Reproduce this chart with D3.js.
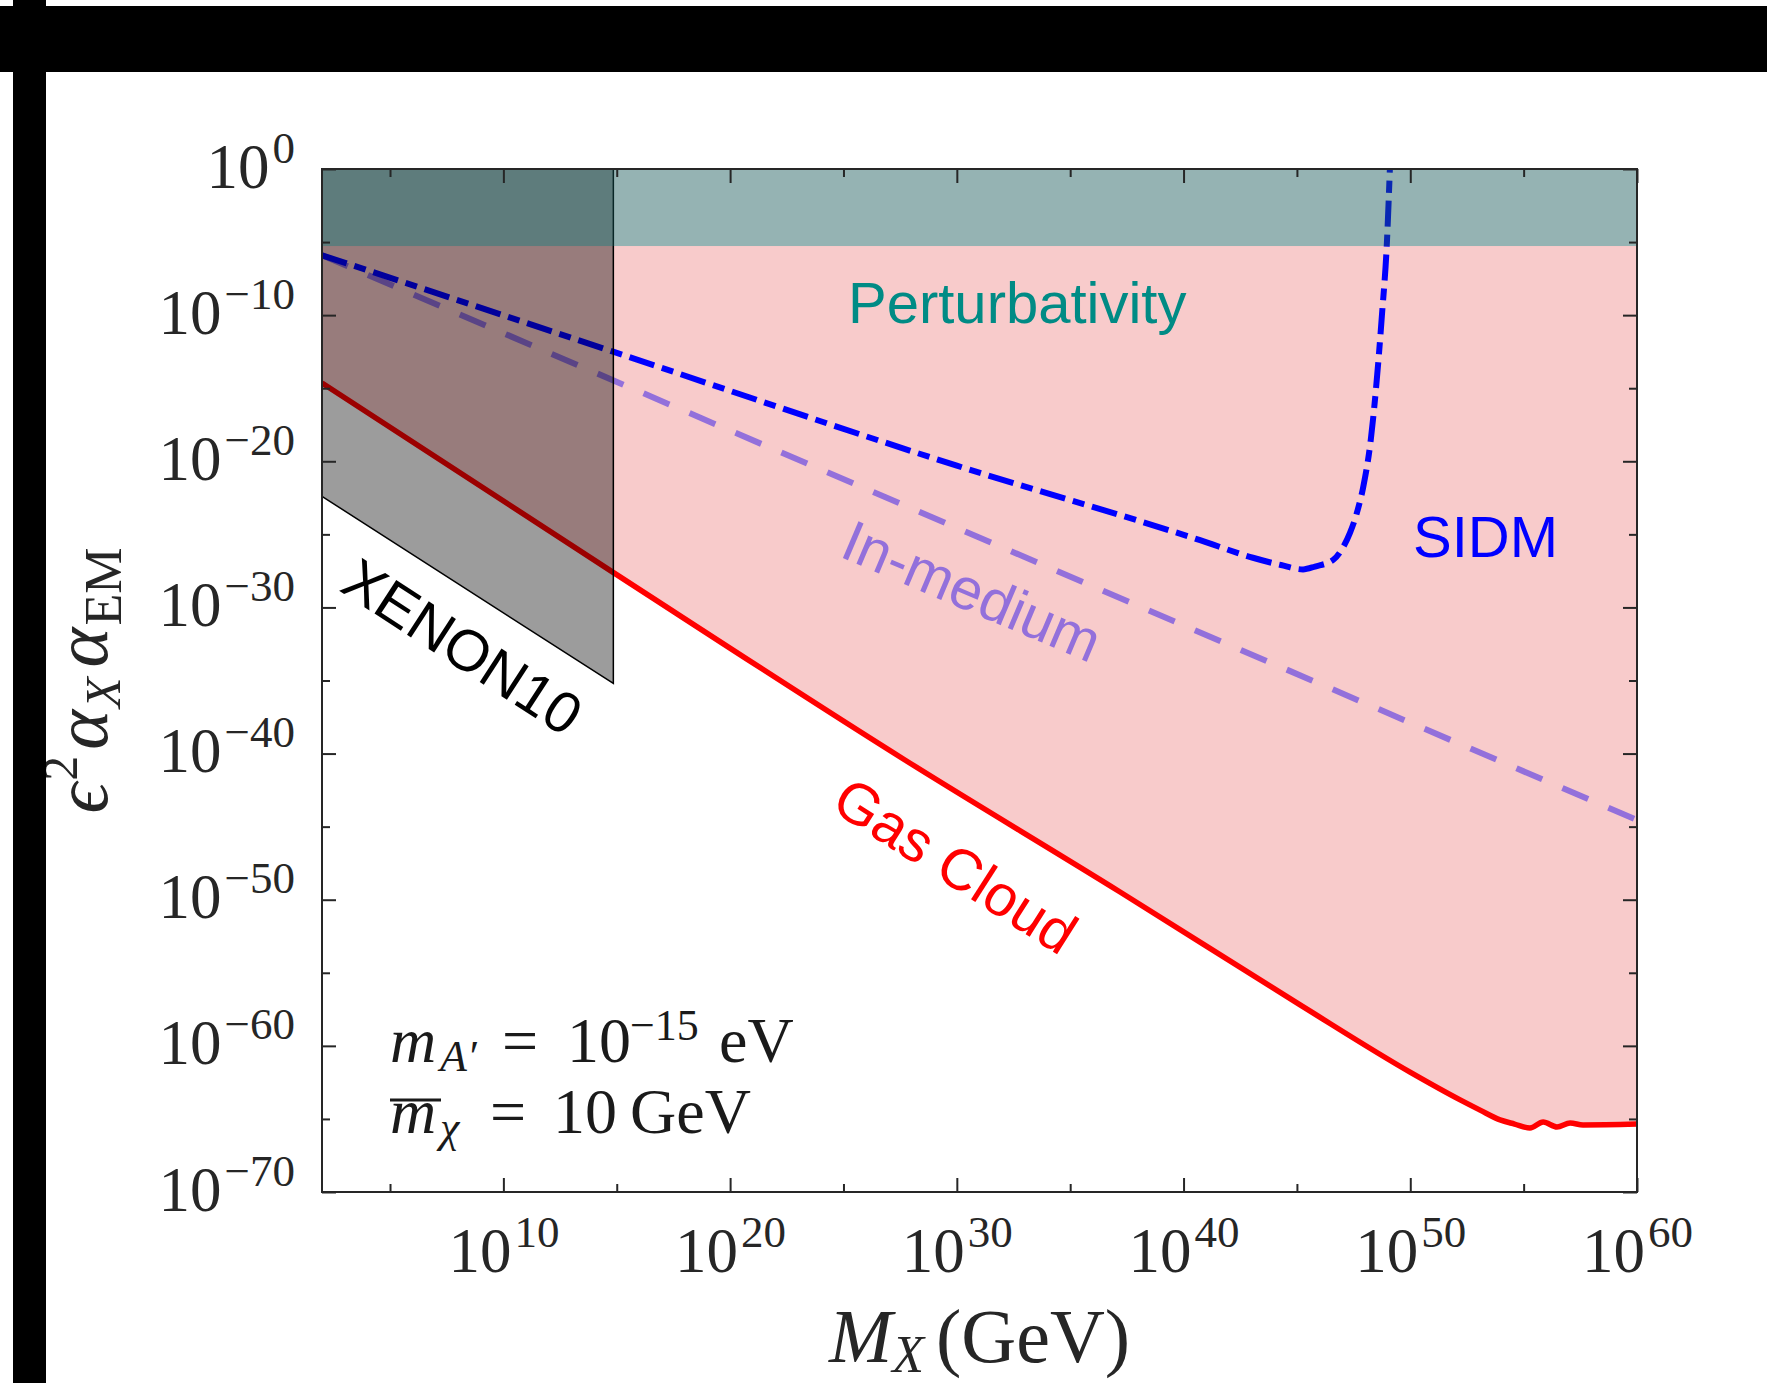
<!DOCTYPE html>
<html>
<head>
<meta charset="utf-8">
<script src="https://cdn.jsdelivr.net/npm/d3@7"></script>
<style>
  body { margin: 0; background: #fff; }
  svg { display: block; }
</style>
</head>
<body>
<svg id="chart" width="1767" height="1383"></svg>
<script>
// exponents (log10)
var axisLogM = [2, 60];
var axisLogC = [-70, 0];
var xMajorExp = [10, 20, 30, 40, 50, 60];
var xMinorExp = [5, 15, 25, 35, 45, 55];
var yMajorExp = [0, -10, -20, -30, -40, -50, -60, -70];
var yMinorExp = [-5, -15, -25, -35, -45, -55, -65];

var perturbativityLogC = -5.27;

var gasLogM = [2, 14.84, 27.71, 37.2, 45.14, 49.99, 52.2, 53.08, 53.96, 54.6, 55.28, 55.86, 56.47, 57.05, 57.62, 60];
var gasLogC = [-14.64, -27.6, -40.44, -49.47, -57.2, -61.8, -63.7, -64.4, -65.07, -65.35, -65.62, -65.21, -65.55, -65.28, -65.41, -65.35];

var sidmLogM = [2, 14.84, 30, 40.73, 43.06, 44.3, 45.27, 45.8, 46.6, 47.03, 47.34, 47.65, 47.92, 48.26, 48.49, 48.75, 48.97, 49.1];
var sidmLogC = [-5.9, -12.5, -20.3, -25.4, -26.6, -27.1, -27.4, -27.2, -26.75, -25.9, -24.9, -23.5, -21.8, -18.5, -15, -10, -5, 0];

var inMediumLogM = [2, 60];
var inMediumLogC = [-5.9, -44.55];

var xenonLogM = [2, 14.85];
var xenonLowerLogC = [-22.4, -35.2];

var p10 = function(e) { return Math.pow(10, e); };
var zip = function(ms, cs) { return ms.map(function(m, i) { return {m: p10(m), c: p10(cs[i])}; }); };

var svg = d3.select('#chart');
// note: "top" is taken by window.top, so plot margins get their own names
var plotX = 322, plotY = 169, W = 1315, H = 1023;
var axisColor = '#262626';
var serif = "'Liberation Serif', 'Times New Roman', serif";
var sans = "'Liberation Sans', Arial, Helvetica, sans-serif";

svg.append('rect').attr('width', 1767).attr('height', 1383).attr('fill', '#fff');

var x = d3.scaleLog().domain(axisLogM.map(p10)).range([0, W]);
var y = d3.scaleLog().domain(axisLogC.map(p10)).range([H, 0]);

var g = svg.append('g').attr('transform', 'translate(' + plotX + ',' + plotY + ')');

svg.append('defs').append('clipPath').attr('id', 'plotclip')
  .append('rect').attr('width', W).attr('height', H);

var plot = g.append('g').attr('clip-path', 'url(#plotclip)');

var gas = zip(gasLogM, gasLogC);
var sidm = zip(sidmLogM, sidmLogC);
var inMedium = zip(inMediumLogM, inMediumLogC);

// excluded region above the gas cloud bound
plot.append('path')
  .datum(gas)
  .attr('fill', '#f8cbcb')
  .attr('d', d3.area()
    .x(function(d) { return x(d.m); })
    .y0(function(d) { return y(d.c); })
    .y1(y(p10(perturbativityLogC)))
    .curve(d3.curveMonotoneX));

var line = d3.line()
  .x(function(d) { return x(d.m); })
  .y(function(d) { return y(d.c); });

plot.append('path').datum(inMedium)
  .attr('fill', 'none').attr('stroke', '#9370db').attr('stroke-width', 6)
  .attr('stroke-dasharray', '28,22')
  .attr('d', line);

plot.append('path').datum(sidm)
  .attr('fill', 'none').attr('stroke', '#0000ff').attr('stroke-width', 6)
  .attr('stroke-dasharray', '26,8,12,8')
  .attr('d', line.curve(d3.curveMonotoneX));

plot.append('path').datum(gas)
  .attr('fill', 'none').attr('stroke', '#ff0000').attr('stroke-width', 5.5)
  .attr('d', line.curve(d3.curveMonotoneX));

// XENON10 shaded region
var xenonPts = [
  {m: p10(xenonLogM[0]), c: p10(axisLogC[1])},
  {m: p10(xenonLogM[1]), c: p10(axisLogC[1])},
  {m: p10(xenonLogM[1]), c: p10(xenonLowerLogC[1])},
  {m: p10(xenonLogM[0]), c: p10(xenonLowerLogC[0])}
];
plot.append('path').datum(xenonPts)
  .attr('fill', 'rgba(0,0,0,0.39)')
  .attr('stroke', '#000').attr('stroke-width', 1.5)
  .attr('d', d3.line().x(function(d) { return x(d.m); }).y(function(d) { return y(d.c); }).curve(d3.curveLinearClosed));

// perturbativity band on top
plot.append('rect')
  .attr('x', 0).attr('width', W)
  .attr('y', y(p10(axisLogC[1])))
  .attr('height', y(p10(perturbativityLogC)) - y(p10(axisLogC[1])))
  .attr('fill', 'rgb(20,87,87)').attr('opacity', 0.45);

// axes
function styleAxis(a) {
  a.attr('color', axisColor).attr('font-family', serif).attr('font-size', 63);
  a.select('.domain').remove();
  a.selectAll('.tick line').attr('stroke-width', 2);
}
function powLabel(sel) {
  sel.each(function(d) {
    var e = Math.round(Math.log10(d));
    var t = d3.select(this).text(null).attr('fill', axisColor);
    t.append('tspan').text('10');
    t.append('tspan').attr('dx', 3).attr('dy', -25).attr('font-size', 45)
      .text(e < 0 ? '\u2212' + (-e) : String(e));
  });
}

var xMajor = xMajorExp.map(p10), xMinor = xMinorExp.map(p10);
var yMajor = yMajorExp.map(p10), yMinor = yMinorExp.map(p10);
var noLabel = function() { return ''; };

g.append('g').attr('transform', 'translate(0,' + H + ')')
  .call(d3.axisBottom(x).tickValues(xMajor).tickSizeInner(-14).tickSizeOuter(0).tickFormat(noLabel))
  .call(styleAxis)
  .call(function(a) {
    a.selectAll('.tick text').attr('y', 80).attr('dy', null).call(powLabel);
  });
g.append('g').attr('transform', 'translate(0,' + H + ')')
  .call(d3.axisBottom(x).tickValues(xMinor).tickSizeInner(-8).tickSizeOuter(0).tickFormat(noLabel))
  .call(styleAxis);
g.append('g')
  .call(d3.axisTop(x).tickValues(xMajor).tickSizeInner(-14).tickSizeOuter(0).tickFormat(noLabel))
  .call(styleAxis);
g.append('g')
  .call(d3.axisTop(x).tickValues(xMinor).tickSizeInner(-8).tickSizeOuter(0).tickFormat(noLabel))
  .call(styleAxis);

g.append('g')
  .call(d3.axisLeft(y).tickValues(yMajor).tickSizeInner(-14).tickSizeOuter(0).tickFormat(noLabel))
  .call(styleAxis)
  .call(function(a) {
    a.selectAll('.tick text').attr('x', -27).attr('y', 18).attr('dy', null).call(powLabel);
  });
g.append('g')
  .call(d3.axisLeft(y).tickValues(yMinor).tickSizeInner(-8).tickSizeOuter(0).tickFormat(noLabel))
  .call(styleAxis);
g.append('g').attr('transform', 'translate(' + W + ',0)')
  .call(d3.axisRight(y).tickValues(yMajor).tickSizeInner(-14).tickSizeOuter(0).tickFormat(noLabel))
  .call(styleAxis);
g.append('g').attr('transform', 'translate(' + W + ',0)')
  .call(d3.axisRight(y).tickValues(yMinor).tickSizeInner(-8).tickSizeOuter(0).tickFormat(noLabel))
  .call(styleAxis);

// axis-side ticks carry empty text nodes; drop them
g.selectAll('.tick text').filter(function() { return this.textContent === ''; }).remove();

g.append('rect').attr('width', W).attr('height', H)
  .attr('fill', 'none').attr('stroke', axisColor).attr('stroke-width', 2);

// axis titles
var xt = svg.append('text').attr('x', plotX + W / 2).attr('y', 1362)
  .attr('text-anchor', 'middle').attr('font-family', serif).attr('font-size', 76).attr('fill', axisColor);
xt.append('tspan').attr('font-style', 'italic').text('M');
xt.append('tspan').attr('font-style', 'italic').attr('font-size', 52).attr('dy', 10).text('X');
xt.append('tspan').attr('dx', 12).attr('dy', -10).text('(GeV)');

var yt = svg.append('text')
  .attr('transform', 'translate(107,' + (plotY + H / 2) + ') rotate(-90)')
  .attr('text-anchor', 'middle').attr('font-family', serif).attr('font-size', 76).attr('fill', axisColor);
yt.append('tspan').attr('font-style', 'italic').text('\u03f5');
yt.append('tspan').attr('font-size', 50).attr('dx', 2).attr('dy', -30).text('2');
yt.append('tspan').attr('font-style', 'italic').attr('dx', 6).attr('dy', 30).text('\u03b1');
yt.append('tspan').attr('font-style', 'italic').attr('font-size', 50).attr('dx', 2).attr('dy', 13).text('X');
yt.append('tspan').attr('font-style', 'italic').attr('dx', 10).attr('dy', -13).text('\u03b1');
yt.append('tspan').attr('font-size', 52).attr('dx', 2).attr('dy', 14).text('EM');

// labels
svg.append('text').attr('x', 848).attr('y', 323)
  .attr('font-family', sans).attr('font-size', 58).attr('fill', '#008b85').text('Perturbativity');
svg.append('text').attr('x', 1413).attr('y', 557)
  .attr('font-family', sans).attr('font-size', 58).attr('fill', '#0000ff').text('SIDM');
svg.append('text').attr('transform', 'translate(838,556) rotate(23)')
  .attr('font-family', sans).attr('font-size', 58).attr('fill', '#9370db').text('In-medium');
svg.append('text').attr('transform', 'translate(829,809) rotate(32.5)')
  .attr('font-family', sans).attr('font-size', 58).attr('fill', '#ff0000').text('Gas Cloud');
svg.append('text').attr('transform', 'translate(338,590) rotate(33)')
  .attr('font-family', sans).attr('font-size', 58).attr('fill', '#000').text('XENON10');

// parameter note
var n1 = svg.append('text').attr('y', 1062).attr('font-family', serif).attr('font-size', 64).attr('fill', '#1a1a1a');
n1.append('tspan').attr('x', 390).attr('font-style', 'italic').text('m');
n1.append('tspan').attr('x', 440).attr('dy', 9).attr('font-style', 'italic').attr('font-size', 44).text('A\u2032');
n1.append('tspan').attr('x', 502).attr('dy', -9).text('=');
n1.append('tspan').attr('x', 567).text('10');
n1.append('tspan').attr('x', 630).attr('dy', -22).attr('font-size', 44).text('\u221215');
n1.append('tspan').attr('x', 719).attr('dy', 22).text('eV');

var n2 = svg.append('text').attr('y', 1133).attr('font-family', serif).attr('font-size', 64).attr('fill', '#1a1a1a');
n2.append('tspan').attr('x', 390).attr('font-style', 'italic').text('m');
n2.append('tspan').attr('x', 440).attr('dy', 9).attr('font-style', 'italic').attr('font-size', 44).text('\u03c7');
n2.append('tspan').attr('x', 490).attr('dy', -9).text('=');
n2.append('tspan').attr('x', 553).text('10');
n2.append('tspan').attr('x', 630).text('GeV');
svg.append('line').attr('x1', 390).attr('x2', 441).attr('y1', 1100).attr('y2', 1100)
  .attr('stroke', '#1a1a1a').attr('stroke-width', 3);

// black frame edges of the scanned figure
svg.append('rect').attr('x', 0).attr('y', 6).attr('width', 1767).attr('height', 66).attr('fill', '#000');
svg.append('rect').attr('x', 13).attr('y', 0).attr('width', 33).attr('height', 1383).attr('fill', '#000');
svg.append('rect').attr('x', 0).attr('y', 6).attr('width', 13).attr('height', 9).attr('fill', '#000');
</script>
</body>
</html>
